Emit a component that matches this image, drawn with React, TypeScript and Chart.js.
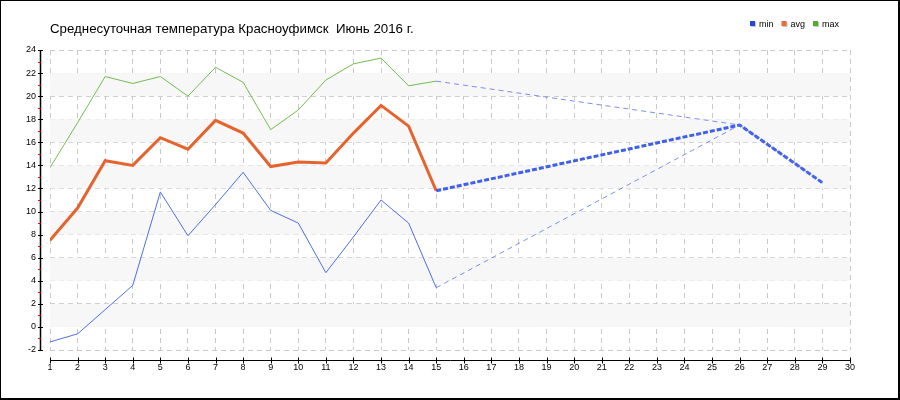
import React, { useEffect, useRef } from "react";
import { Chart, registerables } from "chart.js";

Chart.register(...registerables);

const titleText = "Среднесуточная температура Красноуфимск  Июнь 2016 г.";
const seriesNames = ["min", "avg", "max"];
const days = [1, 2, 3, 4, 5, 6, 7, 8, 9, 10, 11, 12, 13, 14, 15, 26, 29];
const minTemp = [-1.3, -0.6, 1.5, 3.6, 11.7, 7.9, 10.6, 13.4, 10.1, 9.0, 4.7, 7.8, 11.0, 9.0, 3.4, 17.5, 12.5];
const avgTemp = [7.5, 10.3, 14.4, 14.0, 16.4, 15.4, 17.9, 16.8, 13.9, 14.3, 14.2, 16.8, 19.2, 17.4, 11.8, 17.5, 12.5];
const maxTemp = [13.8, 17.7, 21.7, 21.1, 21.7, 20.0, 22.5, 21.2, 17.1, 18.8, 21.4, 22.8, 23.3, 20.9, 21.3, 17.5, 12.5];
const xMin = 1;
const xMax = 30;
const yMin = -2;
const yMax = 24;
const yStep = 2;
const lastMeasuredDay = 15;

const lineColors = ["#4f6fe3", "#e5632c", "#72bd4f"];
const legendColors = ["#2347e0", "#ec6a35", "#4caf2c"];
const dashColorThin = "rgba(80,105,235,0.75)";
const dashColorThick = "#4060ea";
const FONT = "'Liberation Sans', Arial, sans-serif";

export default function App() {
  const ref = useRef<HTMLCanvasElement | null>(null);

  useEffect(() => {
    const canvas = ref.current;
    if (!canvas) return;

    const mk = (vals: number[]) => days.map((d, i) => ({ x: d, y: vals[i] }));
    const forecast = (c: any) => c.p0.parsed.x >= lastMeasuredDay;

    const decorPlugin = {
      id: "decor",
      beforeDatasetsDraw(chart: any) {
        const { ctx, chartArea, scales } = chart;
        const y = scales.y;
        ctx.save();
        ctx.fillStyle = "#f7f7f7";
        for (let v = 0; v < yMax - 2; v += 4) {
          const top = y.getPixelForValue(v + 2);
          const bot = y.getPixelForValue(v);
          ctx.fillRect(chartArea.left, top, chartArea.right - chartArea.left, bot - top);
        }
        ctx.restore();
      },
      beforeDraw(chart: any) {
        const { ctx, width, height } = chart;
        ctx.save();
        ctx.fillStyle = "#ffffff";
        ctx.fillRect(0, 0, width, height);
        ctx.restore();
      },
      afterDraw(chart: any) {
        const { ctx, chartArea, scales, width, height } = chart;
        const xs = scales.x;
        const ys = scales.y;
        ctx.save();
        // y axis
        const ax = chartArea.left - 9.5;
        ctx.strokeStyle = "#000";
        ctx.lineWidth = 1.5;
        ctx.beginPath();
        ctx.moveTo(ax, ys.getPixelForValue(yMax));
        ctx.lineTo(ax, ys.getPixelForValue(yMin) + 0.5);
        ctx.stroke();
        ctx.lineWidth = 1;
        for (let v = yMin; v <= yMax; v += 1) {
          const py = Math.round(ys.getPixelForValue(v)) + 0.5;
          ctx.beginPath();
          if (v % 2 === 0) {
            ctx.strokeStyle = "#000";
            ctx.moveTo(ax - 2.5, py);
            ctx.lineTo(ax + 2.5, py);
          } else {
            ctx.strokeStyle = "#ff0000";
            ctx.moveTo(ax - 2.5, py);
            ctx.lineTo(ax, py);
          }
          ctx.stroke();
        }
        // x axis
        const ay = chartArea.bottom + 10.5;
        ctx.strokeStyle = "#000";
        ctx.lineWidth = 1;
        ctx.beginPath();
        ctx.moveTo(xs.getPixelForValue(xMin), ay);
        ctx.lineTo(xs.getPixelForValue(xMax) + 1, ay);
        ctx.stroke();
        for (let d = xMin; d <= xMax; d++) {
          const px = Math.round(xs.getPixelForValue(d)) + 0.5;
          ctx.beginPath();
          ctx.moveTo(px, ay - 3);
          ctx.lineTo(px, ay + 3);
          ctx.stroke();
        }
        // title
        ctx.fillStyle = "#000";
        ctx.font = "13.3px " + FONT;
        ctx.textAlign = "left";
        ctx.textBaseline = "alphabetic";
        ctx.fillText(titleText, 50, 33);
        // legend
        ctx.font = "9px " + FONT;
        let lx = 750;
        seriesNames.forEach((name, i) => {
          ctx.fillStyle = "#c8c8c8";
          ctx.fillRect(lx + 1, 22, 5, 5);
          ctx.fillStyle = legendColors[i];
          ctx.fillRect(lx, 21, 5, 5);
          ctx.fillStyle = "#000";
          ctx.fillText(name, lx + 9, 27);
          lx += 9 + ctx.measureText(name).width + 8;
        });
        // frame
        ctx.fillStyle = "#000";
        ctx.fillRect(0, 0, width, 1);
        ctx.fillRect(0, 0, 1, height);
        ctx.fillRect(width - 2, 0, 2, height);
        ctx.fillRect(0, height - 2, width, 2);
        ctx.restore();
      },
    };

    const chart = new Chart(canvas, {
      type: "line",
      data: {
        datasets: [
          {
            label: seriesNames[2],
            data: mk(maxTemp),
            borderColor: lineColors[2],
            borderWidth: 1,
            pointRadius: 0,
            tension: 0,
            segment: {
              borderColor: (c: any) => (forecast(c) ? dashColorThin : undefined),
              borderDash: (c: any) => (forecast(c) ? [5, 4] : undefined),
            },
          },
          {
            label: seriesNames[0],
            data: mk(minTemp),
            borderColor: lineColors[0],
            borderWidth: 1,
            pointRadius: 0,
            tension: 0,
            segment: {
              borderColor: (c: any) => (forecast(c) ? dashColorThin : undefined),
              borderDash: (c: any) => (forecast(c) ? [5, 4] : undefined),
            },
          },
          {
            label: seriesNames[1],
            data: mk(avgTemp),
            borderColor: lineColors[1],
            borderWidth: 3,
            pointRadius: 0,
            tension: 0,
            segment: {
              borderColor: (c: any) => (forecast(c) ? dashColorThick : undefined),
              borderDash: (c: any) => (forecast(c) ? [5, 2] : undefined),
            },
          },
        ],
      },
      options: {
        animation: false,
        responsive: false,
        devicePixelRatio: 1,
        layout: { padding: { top: 50, right: 50, left: 0, bottom: 0 } },
        plugins: {
          legend: { display: false },
          title: { display: false },
          tooltip: { enabled: false },
        },
        scales: {
          x: {
            type: "linear",
            min: xMin,
            max: xMax,
            afterFit: (s: any) => {
              s.height = 50;
            },
            ticks: {
              stepSize: 1,
              autoSkip: false,
              maxRotation: 0,
              padding: 12,
              color: "#000",
              font: { family: FONT, size: 9 },
            },
            grid: {
              color: "#c8c8c8",
              lineWidth: 1,
              drawTicks: false,
            },
            border: { display: false, dash: [5, 4] },
          },
          y: {
            type: "linear",
            min: yMin,
            max: yMax,
            afterFit: (s: any) => {
              s.width = 50;
            },
            ticks: {
              stepSize: yStep,
              padding: 14,
              color: "#000",
              font: { family: FONT, size: 9 },
            },
            grid: {
              color: "#c8c8c8",
              lineWidth: 1,
              drawTicks: false,
            },
            border: { display: false, dash: [5, 4] },
          },
        },
      },
      plugins: [decorPlugin],
    } as any);

    return () => chart.destroy();
  }, []);

  return (
    <div style={{ position: "absolute", left: 0, top: 0, width: 900, height: 400 }}>
      <canvas ref={ref} width={900} height={400} style={{ width: 900, height: 400, display: "block" }} />
    </div>
  );
}
